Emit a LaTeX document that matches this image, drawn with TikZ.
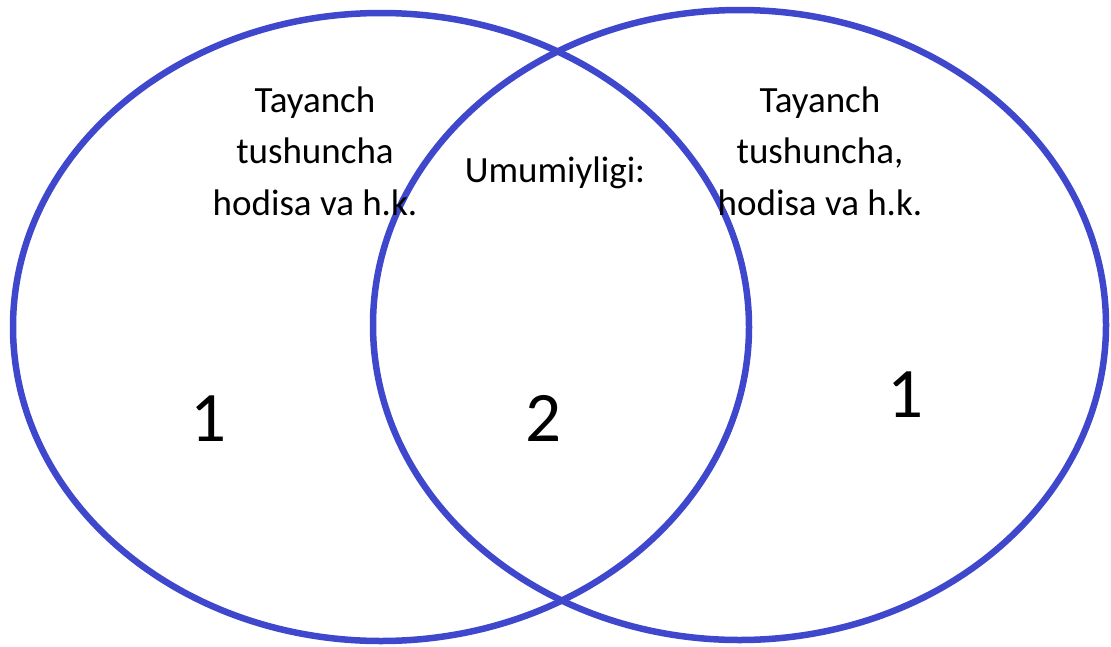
\documentclass[tikz,border=0pt]{standalone}
\usepackage{fontspec}
\setmainfont{Carlito}
\definecolor{vennblue}{RGB}{63,72,204}
\begin{document}
\begin{tikzpicture}[x=1pt,y=-1pt,
  ring/.style={draw=vennblue,line width=6.5pt},
  lbl/.style={inner sep=0pt,anchor=base,font=\fontsize{37}{44}\selectfont},
  num/.style={inner sep=0pt,anchor=base,font=\fontsize{71}{80}\selectfont}]
\useasboundingbox (0,0) rectangle (1111,646);
\draw[ring] (381,327) ellipse [x radius=368, y radius=314];
\draw[ring] (739.5,325) ellipse [x radius=366.5, y radius=315];
\node[lbl] (l1) at (315,112) {Tayanch};
\node[lbl] (l2) at (315,163.5) {tushuncha};
\node[lbl] (l3) at (315,215) {hodisa va h.k.};
\node[lbl] (c1) at (555,182) {Umumiyligi:};
\node[lbl] (r1) at (820,112) {Tayanch};
\node[lbl] (r2) at (820,163.5) {tushuncha,};
\node[lbl] (r3) at (820,215) {hodisa va h.k.};
\node[num] (n1) at (208,441) {1};
\node[num] (n2) at (543,441) {2};
\node[num] (n3) at (905,417) {1};
\end{tikzpicture}
\end{document}
